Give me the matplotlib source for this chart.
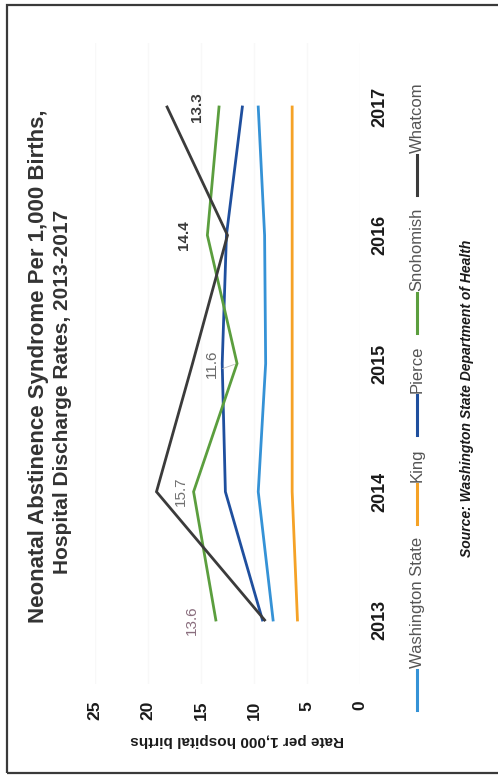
import matplotlib
matplotlib.use('Agg')
import matplotlib.pyplot as plt
from matplotlib.lines import Line2D
from matplotlib.patches import Rectangle

# ---------------- data ----------------
years = [2013, 2014, 2015, 2016, 2017]
series_names = ['Washington State', 'King', 'Pierce', 'Snohomish', 'Whatcom']
washington_state = [8.2, 9.6, 8.9, 9.0, 9.6]
king = [5.9, 6.4, 6.4, 6.4, 6.4]
pierce = [9.2, 12.7, 13.0, 12.6, 11.1]
snohomish = [13.6, 15.7, 11.6, 14.4, 13.3]
whatcom = [9.0, 19.2, 15.8, 12.5, 18.2]
snohomish_labels = ['13.6', '15.7', '11.6', '14.4', '13.3']
rate_ticks = [0, 5, 10, 15, 20, 25]
year_labels = ['2013', '2014', '2015', '2016', '2017']

title_lines = ['Neonatal Abstinence Syndrome Per 1,000 Births,',
               'Hospital Discharge Rates, 2013-2017']
value_label = 'Rate per 1,000 hospital births'
source_text = 'Source: Washington State Department of Health'

# ---------------- style ----------------
colors = ['#3592d6', '#f5a226', '#1f4f9e', '#5b9e3e', '#3b3b3b']
series_values = [washington_state, king, pierce, snohomish, whatcom]
label_colors = ['#8a6e7e', '#707070', '#6a6a6a', '#3a3a3a', '#3a3a3a']
label_weights = ['normal', 'normal', 'normal', 'bold', 'bold']

plt.rcParams['font.family'] = ['Liberation Sans', 'DejaVu Sans']

W, H = 498, 782
fig = plt.figure(figsize=(W / 100, H / 100), dpi=100)
fig.patch.set_facecolor('white')


def fx(px):
    return px / W


def fy(py):
    return 1 - py / H


# frame of the scanned page
fig.add_artist(Rectangle((fx(7), fy(773)), fx(520) - fx(7), fy(5) - fy(773),
                         transform=fig.transFigure, fill=False,
                         edgecolor='#3a3a3a', linewidth=1.6))

# axes: value runs horizontally (25 left -> 0 right), years run upward
left, right = 95, 360
y2013, y2017 = 620, 107
step = (y2013 - y2017) / 4
bottom_px = y2013 + step / 2
top_px = y2017 - step / 2
ax = fig.add_axes([fx(left), fy(bottom_px), fx(right) - fx(left), fy(top_px) - fy(bottom_px)])
ax.set_xlim(25, 0)
ax.set_ylim(years[0] - 0.5, years[-1] + 0.5)
for s in ax.spines.values():
    s.set_visible(False)
ax.set_facecolor('none')

ax.set_xticks(rate_ticks)
ax.set_xticklabels([str(t) for t in rate_ticks], rotation=90, fontsize=12.5,
                   fontweight='bold', color='#1a1a1a')
ax.tick_params(axis='x', length=0, pad=12)
ax.xaxis.grid(True, color='#f8f8f8', linewidth=1.0)

ax.yaxis.tick_right()
ax.set_yticks(years)
ax.set_yticklabels(year_labels, rotation=90, fontsize=13, fontweight='bold',
                   color='#1a1a1a', va='center')
ax.tick_params(axis='y', length=0, pad=8)

for vals, c in zip(series_values, colors):
    ax.plot(vals, years, color=c, linewidth=2.0, solid_joinstyle='miter')

# data labels for Snohomish
label_offsets = [24, 13, 25, 23, 22]
for i, (v, yr, txt) in enumerate(zip(snohomish, years, snohomish_labels)):
    ax.annotate(txt, xy=(v, yr), xytext=(-label_offsets[i], 0),
                textcoords='offset pixels', rotation=90, ha='center', va='center',
                fontsize=11, color=label_colors[i], fontweight=label_weights[i])
# small leader line for 2015 label
ax.annotate('', xy=(snohomish[2], years[2]), xytext=(-17, -6),
            textcoords='offset pixels',
            arrowprops=dict(arrowstyle='-', color='#bbbbbb', linewidth=0.6))

# title
fig.text(fx(39), fy(366), title_lines[0], rotation=90, ha='center', va='center',
         fontsize=16, fontweight='bold', color='#333333')
fig.text(fx(63), fy(392), title_lines[1], rotation=90, ha='center', va='center',
         fontsize=15, fontweight='bold', color='#333333')

# value axis label (upside down in scan)
fig.text(fx(237), fy(740), value_label, rotation=180, ha='center', va='center',
         fontsize=11, fontweight='bold', color='#1a1a1a')

# legend, laid out bottom to top
fig.canvas.draw()
renderer = fig.canvas.get_renderer()
cur = 710
for name, c in zip(series_names, colors):
    fig.add_artist(Line2D([fx(417), fx(417)], [fy(cur), fy(cur - 40)],
                          transform=fig.transFigure, color=c, linewidth=2.2))
    t = fig.text(fx(417), fy(cur - 42), name, rotation=90, ha='center', va='bottom',
                 fontsize=12, color='#555555')
    bb = t.get_window_extent(renderer)
    cur = cur - 42 - bb.height - 13

# source
fig.text(fx(467), fy(398), source_text, rotation=90, ha='center', va='center',
         fontsize=10, fontweight='bold', fontstyle='italic', color='#1a1a1a')

fig.savefig('out.png', dpi=100, facecolor='white')
